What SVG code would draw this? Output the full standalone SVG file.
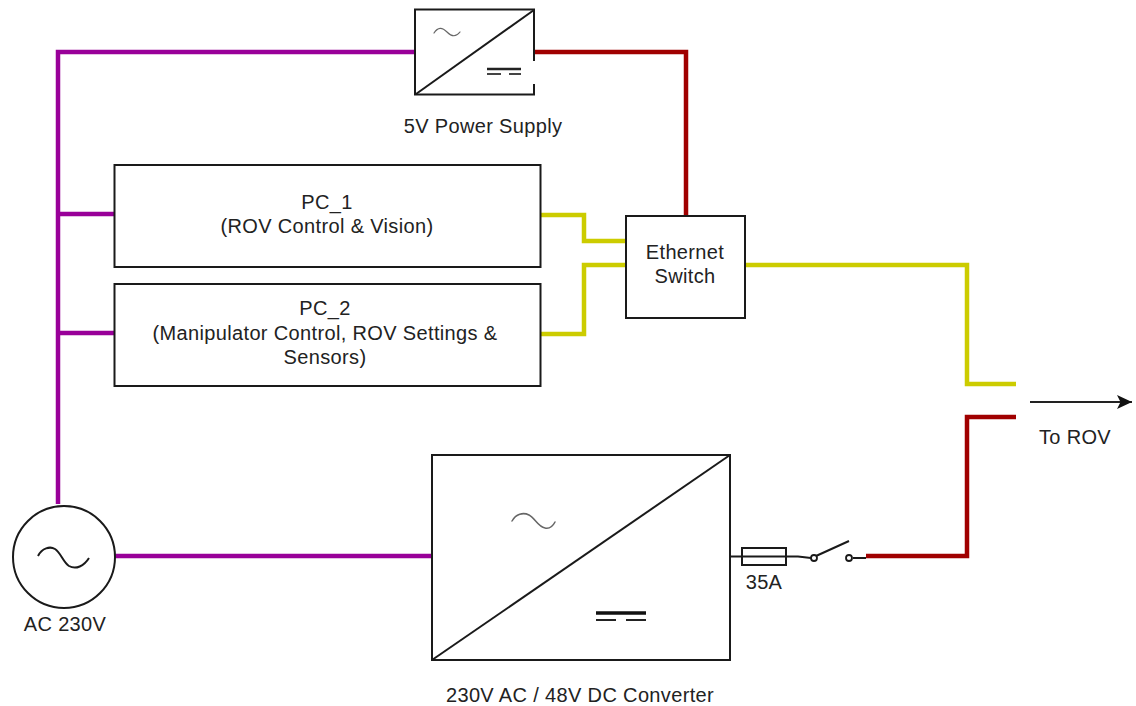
<svg xmlns="http://www.w3.org/2000/svg" width="1136" height="706" viewBox="0 0 1136 706">
<style>
.w{fill:none;stroke-width:4.5;stroke-linejoin:miter}
.p{stroke:#990099}.r{stroke:#a00000}.y{stroke:#cccc00}
.b{fill:#fff;stroke:#1a1a1a;stroke-width:2}
.l{fill:none;stroke:#1a1a1a;stroke-width:2}
.s{fill:none;stroke:#666;stroke-width:1.2;stroke-linecap:round}
text{font-family:"Liberation Sans",Arial,sans-serif;font-size:20px;letter-spacing:.35px;fill:#222;text-anchor:middle}
</style>
<defs>
<marker id="arrow" markerUnits="userSpaceOnUse" markerWidth="16" markerHeight="16" refX="15" refY="7" orient="auto"><path d="M0 0L15 7L0 14L3.500 7Z" fill="#111"/></marker>
</defs>
<rect width="1136" height="706" fill="#fff"/>
<g id="connectors">
<path class="w p" d="M58 504V52H414"/>
<path class="w p" d="M58 214H114"/>
<path class="w p" d="M58 333H114"/>
<path class="w p" d="M115 556H431"/>
<path class="w r" d="M534 52H686V215"/>
<path class="w y" d="M541 215H584V241H625"/>
<path class="w y" d="M541 334H584V265H625"/>
<path class="w y" d="M746 265H967V384H1016"/>
<path class="w r" d="M866 556H967V417H1016"/>
<path d="M1030 402H1132" fill="none" stroke="#222" stroke-width="2" marker-end="url(#arrow)"/>
<path class="l" d="M731 556.500H798L811 558M816 556L849 541M853 558H866"/>
</g>
<g id="power-supply">
<rect class="b" x="415" y="9.500" width="119" height="85"/>
<path class="l" d="M416 94L534 10"/>
<path d="M534 61V84" stroke="#fff" stroke-width="3"/>
<path class="s" d="M434 33C438 27 442 27 447 32S456 37 460 32"/>
<path d="M487 69H521" stroke="#222" stroke-width="2.500"/>
<path d="M487 74H501M509 74H521" stroke="#444" stroke-width="1.800"/>
<text x="483" y="133">5V Power Supply</text>
</g>
<g id="pc1">
<rect class="b" x="114.500" y="165" width="426" height="102"/>
<text x="327" y="209">PC_1</text>
<text x="327" y="233">(ROV Control &amp; Vision)</text>
</g>
<g id="pc2">
<rect class="b" x="114.500" y="284" width="426" height="102"/>
<text x="325" y="315">PC_2</text>
<text x="325" y="340">(Manipulator Control, ROV Settings &amp;</text>
<text x="325" y="364">Sensors)</text>
</g>
<g id="ethernet-switch">
<rect class="b" x="626" y="216" width="119" height="102"/>
<text x="685" y="259">Ethernet</text>
<text x="685" y="283">Switch</text>
</g>
<g id="ac-source">
<circle class="b" cx="64" cy="557" r="51"/>
<path class="l" d="M38 556C42 548 50 546 55 549C61 553 63 562 69 566C76 570 84 566 89 558"/>
<text x="65" y="631">AC 230V</text>
</g>
<g id="converter">
<rect class="b" x="432" y="455" width="298" height="205"/>
<path class="l" d="M432 660L730 455"/>
<path d="M512 521C516 514 523 512 529 515C535 518 538 527 545 528C550 529 553 526 555 522" fill="none" stroke="#666" stroke-width="1.500" stroke-linecap="round"/>
<path d="M596 613H646" stroke="#111" stroke-width="3.500"/>
<path d="M596 620H616M626 620H646" stroke="#222" stroke-width="2"/>
<text x="580" y="702">230V AC / 48V DC Converter</text>
</g>
<g id="fuse">
<rect x="742" y="548" width="44" height="17" fill="none" stroke="#1a1a1a" stroke-width="2"/>
<text x="764" y="589">35A</text>
</g>
<g id="switch">
<circle cx="814" cy="558" r="3" fill="#fff" stroke="#1a1a1a" stroke-width="1.800"/>
<circle cx="849" cy="558" r="3" fill="#fff" stroke="#1a1a1a" stroke-width="1.800"/>
</g>
<text id="to-rov" x="1075" y="444">To ROV</text>
</svg>
